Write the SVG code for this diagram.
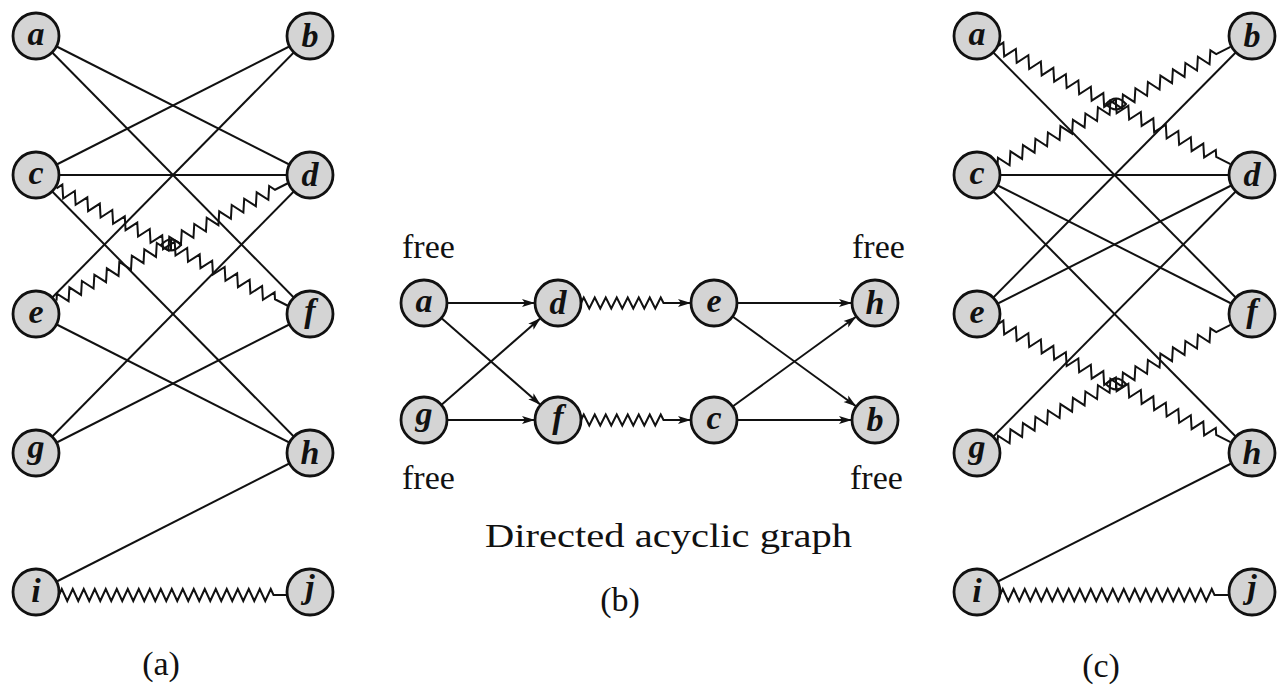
<svg xmlns="http://www.w3.org/2000/svg" xmlns:xlink="http://www.w3.org/1999/xlink" width="1278" height="690" viewBox="0 0 1278 690">
<style>
.bg{fill:#ffffff}
.edge{stroke:#111;stroke-width:2;fill:none}
.zz{stroke:#111;stroke-width:2;fill:none;stroke-linejoin:miter}
.arr{stroke:#111;stroke-width:2;fill:none;marker-end:url(#ah)}
.node circle{fill:#d4d4d4;stroke:#111;stroke-width:2.8}
.node text{font-family:"Liberation Serif","Times New Roman",serif;font-style:italic;font-weight:bold;font-size:34px;fill:#111;text-anchor:middle}
.cap{font-family:"Liberation Serif","Times New Roman",serif;font-size:34px;fill:#111}
.mid{text-anchor:middle}
</style>
<defs>
<marker id="ah" markerUnits="userSpaceOnUse" markerWidth="13" markerHeight="10" viewBox="0 0 13 10" refX="13" refY="5" orient="auto">
<path d="M0,1 L13,5 L0,9 L3,5 Z" fill="#111"/>
</marker>
<path id="zz" d="M23,0 l3.5,-6 l7,12 l7,-12 l7,12 l7,-12 l7,12 l7,-12 l7,12 l7,-12 l7,12 l7,-12 l7,12 l7,-12 l7,12 l7,-12 l7,12 l7,-12 l7,12 l7,-12 l7,12 l7,-12 l7,12 l7,-12 l7,12 l7,-12 l7,12 l7,-12 l7,12 l7,-12 l7,12 l7,-12 l7,12 l7,-12 l7,12 l7,-12 l3.5,6 L284,0"/>
<path id="zzh" d="M23,0 l2.75,-6 l5.5,12 l5.5,-12 l5.5,12 l5.5,-12 l5.5,12 l5.5,-12 l5.5,12 l5.5,-12 l5.5,12 l5.5,-12 l5.5,12 l5.5,-12 l5.5,12 l5.5,-12 l5.5,12 l5.5,-12 l5.5,12 l5.5,-12 l5.5,12 l5.5,-12 l5.5,12 l5.5,-12 l5.5,12 l5.5,-12 l5.5,12 l5.5,-12 l5.5,12 l5.5,-12 l5.5,12 l5.5,-12 l5.5,12 l5.5,-12 l5.5,12 l5.5,-12 l5.5,12 l5.5,-12 l5.5,12 l5.5,-12 l2.75,6 L252,0"/>
<path id="zzb" d="M23,0 l2.75,-5.5 l5.5,11 l5.5,-11 l5.5,11 l5.5,-11 l5.5,11 l5.5,-11 l5.5,11 l5.5,-11 l5.5,11 l5.5,-11 l5.5,11 l5.5,-11 l5.5,11 l5.5,-11 l2.75,5.5 L133,0"/>
<path id="eye" d="M-10,0 Q0,-11 10,0 Q0,11 -10,0 Z M0,-6 V6"/>
</defs>
<rect class="bg" x="0" y="0" width="1278" height="690"/>

<g id="connectors">
<!-- (a) straight -->
<line class="edge" x1="36" y1="36" x2="310" y2="175"/>
<line class="edge" x1="36" y1="36" x2="310" y2="314"/>
<line class="edge" x1="310" y1="36" x2="36" y2="175"/>
<line class="edge" x1="310" y1="36" x2="36" y2="314"/>
<line class="edge" x1="36" y1="175" x2="310" y2="175"/>
<line class="edge" x1="36" y1="175" x2="310" y2="453"/>
<line class="edge" x1="310" y1="175" x2="36" y2="453"/>
<line class="edge" x1="310" y1="314" x2="36" y2="453"/>
<line class="edge" x1="36" y1="314" x2="310" y2="453"/>
<line class="edge" x1="310" y1="453" x2="36" y2="592"/>
<!-- (a) zigzag -->
<use class="zz" href="#zz" xlink:href="#zz" transform="translate(36,178) rotate(26.9)"/>
<use class="zz" href="#zz" xlink:href="#zz" transform="translate(36,311) rotate(-26.9)"/>
<use class="zz" href="#eye" xlink:href="#eye" transform="translate(171,245)"/>
<use class="zz" href="#zzh" xlink:href="#zzh" transform="translate(36,595)"/>

<!-- (c) straight -->
<line class="edge" x1="977" y1="36" x2="1252" y2="314"/>
<line class="edge" x1="1252" y1="36" x2="977" y2="314"/>
<line class="edge" x1="977" y1="175" x2="1252" y2="175"/>
<line class="edge" x1="977" y1="175" x2="1252" y2="314"/>
<line class="edge" x1="977" y1="175" x2="1252" y2="453"/>
<line class="edge" x1="1252" y1="175" x2="977" y2="314"/>
<line class="edge" x1="1252" y1="175" x2="977" y2="453"/>
<line class="edge" x1="1252" y1="453" x2="977" y2="592"/>
<!-- (c) zigzag -->
<use class="zz" href="#zz" xlink:href="#zz" transform="translate(977,36) rotate(26.8)"/>
<use class="zz" href="#zz" xlink:href="#zz" transform="translate(977,175) rotate(-26.8)"/>
<use class="zz" href="#eye" xlink:href="#eye" transform="translate(1116,104)"/>
<use class="zz" href="#zz" xlink:href="#zz" transform="translate(977,314) rotate(26.8)"/>
<use class="zz" href="#zz" xlink:href="#zz" transform="translate(977,453) rotate(-26.8)"/>
<use class="zz" href="#eye" xlink:href="#eye" transform="translate(1116,384)"/>
<use class="zz" href="#zzh" xlink:href="#zzh" transform="translate(977,595)"/>

<!-- (b) arrows -->
<line class="arr" x1="447" y1="303" x2="535" y2="303"/>
<line class="arr" x1="447" y1="420" x2="535" y2="420"/>
<line class="arr" x1="441.3" y1="318.1" x2="540.7" y2="404.9"/>
<line class="arr" x1="441.3" y1="404.9" x2="540.7" y2="318.1"/>
<use class="arr" href="#zzb" xlink:href="#zzb" transform="translate(558,303)"/>
<use class="arr" href="#zzb" xlink:href="#zzb" transform="translate(558,420)"/>
<line class="arr" x1="737" y1="303" x2="852" y2="303"/>
<line class="arr" x1="737" y1="420" x2="852" y2="420"/>
<line class="arr" x1="732.6" y1="316.5" x2="856.4" y2="406.5"/>
<line class="arr" x1="732.6" y1="406.5" x2="856.4" y2="316.5"/>
</g>

<!-- (a) nodes -->
<g id="a-a" class="node"><circle cx="36" cy="36" r="23"/><text x="36" y="45">a</text></g>
<g id="a-b" class="node"><circle cx="310" cy="36" r="23"/><text x="310" y="47">b</text></g>
<g id="a-c" class="node"><circle cx="36" cy="175" r="23"/><text x="36" y="184">c</text></g>
<g id="a-d" class="node"><circle cx="310" cy="175" r="23"/><text x="310" y="186">d</text></g>
<g id="a-e" class="node"><circle cx="36" cy="314" r="23"/><text x="36" y="323">e</text></g>
<g id="a-f" class="node"><circle cx="310" cy="314" r="23"/><text x="310" y="322">f</text></g>
<g id="a-g" class="node"><circle cx="36" cy="453" r="23"/><text x="36" y="458">g</text></g>
<g id="a-h" class="node"><circle cx="310" cy="453" r="23"/><text x="310" y="464">h</text></g>
<g id="a-i" class="node"><circle cx="36" cy="592" r="23"/><text x="36" y="602">i</text></g>
<g id="a-j" class="node"><circle cx="310" cy="592" r="23"/><text x="310" y="598">j</text></g>

<!-- (b) nodes -->
<g id="b-a" class="node"><circle cx="424" cy="303" r="23"/><text x="424" y="312">a</text></g>
<g id="b-d" class="node"><circle cx="558" cy="303" r="23"/><text x="558" y="314">d</text></g>
<g id="b-e" class="node"><circle cx="714" cy="303" r="23"/><text x="714" y="312">e</text></g>
<g id="b-h" class="node"><circle cx="875" cy="303" r="23"/><text x="875" y="314">h</text></g>
<g id="b-g" class="node"><circle cx="424" cy="420" r="23"/><text x="424" y="425">g</text></g>
<g id="b-f" class="node"><circle cx="558" cy="420" r="23"/><text x="558" y="428">f</text></g>
<g id="b-c" class="node"><circle cx="714" cy="420" r="23"/><text x="714" y="429">c</text></g>
<g id="b-b" class="node"><circle cx="875" cy="420" r="23"/><text x="875" y="431">b</text></g>

<!-- (c) nodes -->
<g id="c-a" class="node"><circle cx="977" cy="36" r="23"/><text x="977" y="45">a</text></g>
<g id="c-b" class="node"><circle cx="1252" cy="36" r="23"/><text x="1252" y="47">b</text></g>
<g id="c-c" class="node"><circle cx="977" cy="175" r="23"/><text x="977" y="184">c</text></g>
<g id="c-d" class="node"><circle cx="1252" cy="175" r="23"/><text x="1252" y="186">d</text></g>
<g id="c-e" class="node"><circle cx="977" cy="314" r="23"/><text x="977" y="323">e</text></g>
<g id="c-f" class="node"><circle cx="1252" cy="314" r="23"/><text x="1252" y="322">f</text></g>
<g id="c-g" class="node"><circle cx="977" cy="453" r="23"/><text x="977" y="458">g</text></g>
<g id="c-h" class="node"><circle cx="1252" cy="453" r="23"/><text x="1252" y="464">h</text></g>
<g id="c-i" class="node"><circle cx="977" cy="592" r="23"/><text x="977" y="602">i</text></g>
<g id="c-j" class="node"><circle cx="1252" cy="592" r="23"/><text x="1252" y="598">j</text></g>

<!-- captions -->
<g id="captions">
<text class="cap" x="402" y="258">free</text>
<text class="cap" x="852" y="258">free</text>
<text class="cap" x="402" y="489">free</text>
<text class="cap" x="850" y="489">free</text>
<text class="cap" x="485" y="547" textLength="367" lengthAdjust="spacingAndGlyphs">Directed acyclic graph</text>
<text class="cap mid" x="161" y="675" font-size="36">(a)</text>
<text class="cap mid" x="620" y="611" font-size="36">(b)</text>
<text class="cap mid" x="1101" y="677" font-size="36">(c)</text>
</g>
</svg>
